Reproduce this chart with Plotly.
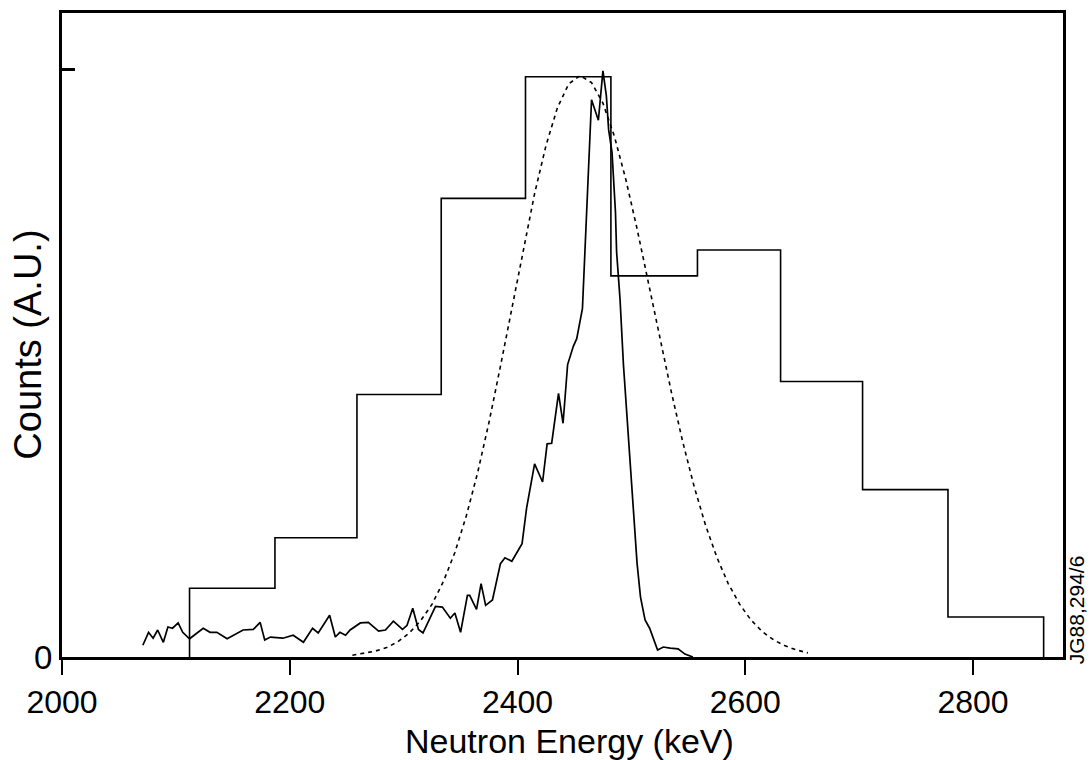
import plotly.graph_objects as go

# Histogram (step) data: bin edges (keV) and levels (A.U.)
hist_edges = [2112, 2187, 2259, 2333, 2407, 2482, 2558, 2631, 2703, 2778, 2862]
hist_levels = [0.117, 0.203, 0.447, 0.781, 0.988, 0.649, 0.693, 0.469, 0.285, 0.068]

# Measured spectrum (solid noisy line)
spec_energy = [2071, 2076, 2080, 2084, 2089, 2093, 2097, 2102, 2106, 2112,
               2124, 2130, 2136, 2145, 2159, 2168, 2174, 2178, 2183, 2194,
               2203, 2212, 2220, 2225, 2235, 2240, 2244, 2249, 2253, 2262,
               2269, 2278, 2284, 2291, 2299, 2303, 2308, 2313, 2317, 2328,
               2334, 2341, 2345, 2350, 2356, 2358, 2364, 2368, 2372, 2378,
               2385, 2389, 2395, 2404, 2408, 2415, 2422, 2426, 2430, 2436,
               2440, 2444, 2449, 2452, 2457, 2459, 2462, 2465, 2471, 2475,
               2478, 2480, 2483, 2486, 2487, 2490, 2493, 2497, 2501, 2505,
               2508, 2512, 2516, 2523, 2528, 2534, 2541, 2547, 2554]
spec_counts = [0.020, 0.042, 0.032, 0.046, 0.025, 0.051, 0.049, 0.058, 0.042, 0.031,
               0.049, 0.042, 0.042, 0.031, 0.046, 0.047, 0.059, 0.029, 0.034, 0.032,
               0.037, 0.025, 0.049, 0.041, 0.071, 0.034, 0.042, 0.037, 0.046, 0.058,
               0.059, 0.044, 0.046, 0.061, 0.047, 0.054, 0.083, 0.047, 0.041, 0.086,
               0.085, 0.066, 0.075, 0.042, 0.105, 0.105, 0.081, 0.125, 0.088, 0.097,
               0.159, 0.169, 0.163, 0.193, 0.254, 0.329, 0.298, 0.363, 0.364, 0.449,
               0.398, 0.498, 0.529, 0.542, 0.593, 0.690, 0.831, 0.949, 0.914, 0.998,
               0.956, 0.898, 0.859, 0.758, 0.690, 0.610, 0.498, 0.385, 0.271, 0.159,
               0.102, 0.063, 0.049, 0.012, 0.017, 0.015, 0.014, 0.005, 0.000]

# Calculated response (dotted curve)
calc_energy = [2255, 2265, 2275, 2285, 2295, 2305, 2315, 2325, 2335, 2345,
               2355, 2365, 2375, 2385, 2395, 2405, 2415, 2425, 2435, 2445,
               2455, 2465, 2475, 2485, 2495, 2505, 2515, 2525, 2535, 2545,
               2555, 2565, 2575, 2585, 2595, 2605, 2615, 2625, 2635, 2645, 2655]
calc_counts = [0.003, 0.006, 0.010, 0.016, 0.026, 0.041, 0.062, 0.090, 0.129, 0.178,
               0.240, 0.314, 0.400, 0.495, 0.594, 0.695, 0.789, 0.871, 0.935, 0.976,
               0.990, 0.978, 0.943, 0.887, 0.814, 0.729, 0.637, 0.543, 0.452, 0.367,
               0.291, 0.225, 0.170, 0.125, 0.090, 0.063, 0.043, 0.029, 0.019, 0.012, 0.007]

x_ticks = [2000, 2200, 2400, 2600, 2800]
y_ticks = [0, 1]
y_ticktext = ["0", ""]

FONT = "Liberation Sans, Arial, sans-serif"

fig = go.Figure()

fig.add_trace(go.Scatter(
    x=[hist_edges[0]] + hist_edges,
    y=[0] + hist_levels + [0],
    mode="lines", line=dict(color="black", width=1.6, shape="hv"),
    hoverinfo="skip", showlegend=False))

fig.add_trace(go.Scatter(
    x=calc_energy, y=calc_counts, mode="lines",
    line=dict(color="black", width=1.6, dash="4px,4px"),
    hoverinfo="skip", showlegend=False))

fig.add_trace(go.Scatter(
    x=spec_energy, y=spec_counts, mode="lines",
    line=dict(color="black", width=1.7),
    hoverinfo="skip", showlegend=False))

fig.update_layout(
    width=1090, height=760,
    margin=dict(l=62, r=27, t=10, b=103),
    paper_bgcolor="white", plot_bgcolor="white",
    font=dict(family=FONT, color="black"),
    xaxis=dict(range=[2000, 2879], tickvals=x_ticks, ticks="outside", ticklen=15,
               tickwidth=2, tickcolor="black", showgrid=False, zeroline=False,
               showline=True, linecolor="black", linewidth=3, mirror=True,
               tickfont=dict(size=32, family=FONT, color="black")),
    yaxis=dict(range=[0, 1.0966], tickvals=y_ticks, ticktext=y_ticktext,
               ticks="inside", ticklen=13, tickwidth=3, tickcolor="black",
               showgrid=False, zeroline=False, showline=True, linecolor="black",
               linewidth=3, mirror=True,
               tickfont=dict(size=33, family=FONT, color="black")),
    annotations=[
        dict(text="Neutron Energy (keV)", xref="paper", yref="paper",
             x=0.507, y=-0.131, xanchor="center", yanchor="middle",
             showarrow=False, font=dict(size=34, family=FONT, color="black")),
        dict(text="Counts (A.U.)", xref="paper", yref="paper",
             x=-0.034, y=0.485, xanchor="center", yanchor="middle", textangle=-90,
             showarrow=False, font=dict(size=38, family=FONT, color="black")),
        dict(text="JG88,294/6", xref="paper", yref="paper",
             x=1.013, y=0.0726, xanchor="center", yanchor="middle", textangle=-90,
             showarrow=False, font=dict(size=21, family=FONT, color="black")),
    ],
)

fig.write_html("out.html")
